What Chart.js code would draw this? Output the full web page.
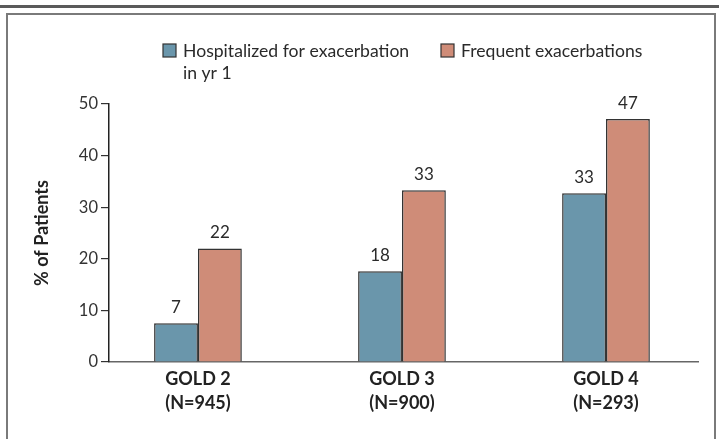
<!DOCTYPE html>
<html>
<head>
<meta charset="utf-8">
<script src="https://cdn.jsdelivr.net/npm/chart.js@4"></script>
<style>
html, body { margin: 0; padding: 0; background: #fff; }
</style>
</head>
<body>
<canvas id="chart" width="719" height="439"></canvas>
<script>
"use strict";

const groups = [["GOLD 2", "(N=945)"], ["GOLD 3", "(N=900)"], ["GOLD 4", "(N=293)"]];
const series_names = [["Hospitalized for exacerbation", "in yr 1"], ["Frequent exacerbations"]];
const hospitalized = [7.5, 17.6, 32.7];
const frequent = [22, 33.3, 47.1];
const hospitalized_labels = ["7", "18", "33"];
const frequent_labels = ["22", "33", "47"];
const y_ticks = [0, 10, 20, 30, 40, 50];

const FONT = "Lato";
const colors = ["#6a96ab", "#cf8c78"];

function to_points(values) {
    return values.map((v, i) => ({ x: i, y: v }));
}

// page frame: rule on top and the box round the figure
const frame_plugin = {
    id: "frame",
    beforeDraw(chart) {
        const ctx = chart.ctx;
        ctx.save();
        ctx.fillStyle = "#fff";
        ctx.fillRect(0, 0, chart.width, chart.height);
        ctx.fillStyle = "#5a5a5a";
        ctx.fillRect(0, 5, chart.width, 3);
        ctx.strokeStyle = "#7a7a7a";
        ctx.lineWidth = 2;
        ctx.beginPath();
        ctx.moveTo(7, chart.height + 5);
        ctx.lineTo(7, 14);
        ctx.lineTo(715, 14);
        ctx.lineTo(715, chart.height + 5);
        ctx.stroke();
        ctx.restore();
    }
};

// numbers above the bars
const value_labels_plugin = {
    id: "value_labels",
    afterDatasetsDraw(chart) {
        const ctx = chart.ctx;
        const all_labels = [hospitalized_labels, frequent_labels];
        ctx.save();
        ctx.font = "17px " + FONT;
        ctx.fillStyle = "#2a2a2a";
        ctx.textAlign = "center";
        ctx.textBaseline = "alphabetic";
        chart.data.datasets.forEach((ds, di) => {
            chart.getDatasetMeta(di).data.forEach((bar, i) => {
                ctx.fillText(all_labels[di][i], bar.x, bar.y - 10);
            });
        });
        ctx.restore();
    }
};

// legend with a two-line first entry
const legend_plugin = {
    id: "custom_legend",
    afterDraw(chart) {
        const ctx = chart.ctx;
        const starts = [163, 441];
        ctx.save();
        ctx.font = "17.6px " + FONT;
        ctx.textBaseline = "middle";
        ctx.textAlign = "left";
        chart.data.datasets.forEach((ds, di) => {
            const x = starts[di];
            ctx.fillStyle = ds.backgroundColor;
            ctx.fillRect(x, 44, 13, 13);
            ctx.strokeStyle = "#333";
            ctx.lineWidth = 1.2;
            ctx.strokeRect(x, 44, 13, 13);
            ctx.fillStyle = "#2a2a2a";
            series_names[di].forEach((line, li) => {
                ctx.fillText(line, x + 20, 51 + li * 22);
            });
        });
        ctx.restore();
    }
};

new Chart(document.getElementById("chart"), {
    type: "bar",
    data: {
        datasets: [
            {
                label: series_names[0].join(" "),
                data: to_points(hospitalized),
                backgroundColor: colors[0],
                borderColor: "#333",
                borderWidth: 1.5,
            },
            {
                label: series_names[1].join(" "),
                data: to_points(frequent),
                backgroundColor: colors[1],
                borderColor: "#333",
                borderWidth: 1.5,
            }
        ]
    },
    options: {
        responsive: false,
        animation: false,
        categoryPercentage: 0.43,
        barPercentage: 1,
        layout: { padding: { left: 0, top: 104, right: 21, bottom: 0 } },
        plugins: {
            legend: { display: false },
            tooltip: { enabled: false },
        },
        scales: {
            x: {
                type: "linear",
                offset: false,
                min: -0.436,
                max: 2.451,
                grid: { display: false, drawTicks: false, offset: false },
                border: { display: true, color: "#666", width: 1.5 },
                afterBuildTicks(axis) {
                    axis.ticks = groups.map((g, i) => ({ value: i }));
                },
                afterFit(axis) { axis.height = 77; },
                ticks: {
                    autoSkip: false,
                    maxRotation: 0,
                    padding: 5,
                    color: "#222",
                    font: { family: FONT, size: 18, weight: "bold", lineHeight: 1.33 },
                    callback: (value) => groups[value],
                },
            },
            y: {
                min: 0,
                max: 50,
                afterBuildTicks(axis) {
                    axis.ticks = y_ticks.map(v => ({ value: v }));
                },
                afterFit(axis) { axis.width = 109; },
                grid: { drawOnChartArea: false, drawTicks: true, tickLength: 8, color: "#333", lineWidth: 1.2 },
                border: { display: true, color: "#222", width: 1.5 },
                ticks: {
                    padding: 3,
                    color: "#333",
                    font: { family: FONT, size: 16.5 },
                },
                title: {
                    display: true,
                    text: "% of Patients",
                    color: "#222",
                    padding: { top: 31, bottom: 0 },
                    font: { family: FONT, size: 18, weight: "bold" },
                },
            },
        },
    },
    plugins: [frame_plugin, value_labels_plugin, legend_plugin],
});
</script>
</body>
</html>
